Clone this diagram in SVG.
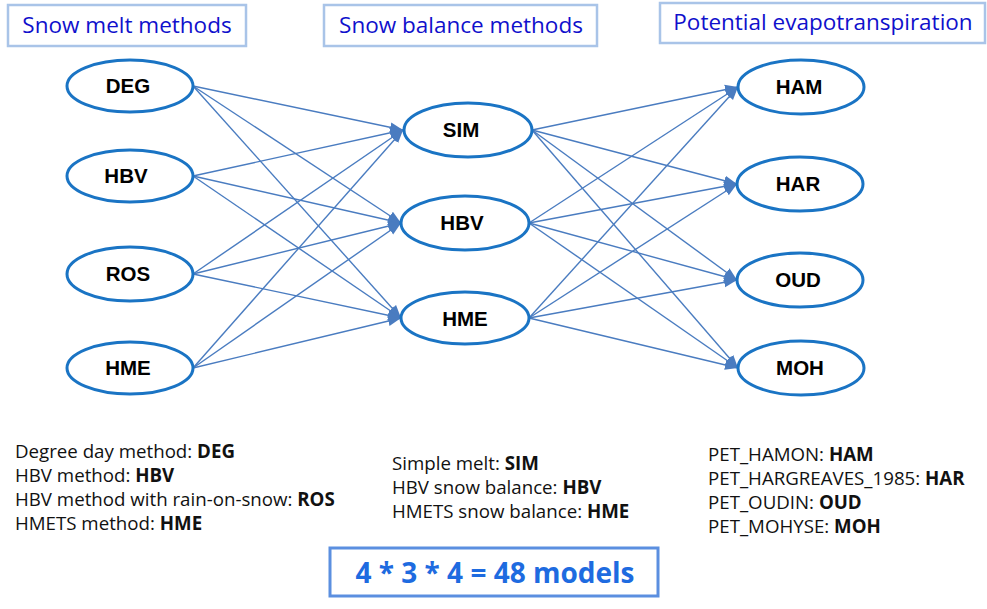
<svg xmlns="http://www.w3.org/2000/svg" width="987" height="609" viewBox="0 0 987 609">
<style>
.hdr{fill:#fff;stroke:#a9c4e8;stroke-width:2.5}
.hdrt{font-family:"Open Sans",sans-serif;font-size:22.5px;fill:#1010cc}
.nd{fill:#fff;stroke:#1a74c4;stroke-width:3}
.ndt{font-family:"Liberation Sans",Arial,sans-serif;font-size:20.5px;font-weight:bold;fill:#000;text-anchor:middle}
.e{stroke:#4a7cc0;stroke-width:1.4;fill:none;marker-end:url(#ah)}
.lg{font-family:"Open Sans",sans-serif;font-size:18.7px;fill:#111}
.lg tspan.b{font-weight:bold}
</style>
<defs>
<marker id="ah" markerUnits="userSpaceOnUse" markerWidth="14" markerHeight="12" refX="13" refY="6" orient="auto">
<path d="M0,1 L13,6 L0,11 Z" fill="#4a7cc0"/>
</marker>
</defs>
<rect width="987" height="609" fill="#fff"/>
<g id="headers">
<g id="h1"><rect class="hdr" x="8" y="5" width="238" height="41"/><text class="hdrt" x="127" y="33" text-anchor="middle">Snow melt methods</text></g>
<g id="h2"><rect class="hdr" x="324" y="5" width="273" height="41"/><text class="hdrt" x="461" y="33" text-anchor="middle">Snow balance methods</text></g>
<g id="h3"><rect class="hdr" x="660" y="3" width="325" height="40"/><text class="hdrt" x="823" y="30" text-anchor="middle">Potential evapotranspiration</text></g>
</g>
<g id="connectors">
<line class="e" x1="193" y1="86" x2="403" y2="130"/>
<line class="e" x1="193" y1="86" x2="401" y2="223"/>
<line class="e" x1="193" y1="86" x2="401" y2="318"/>
<line class="e" x1="193" y1="176" x2="403" y2="130"/>
<line class="e" x1="193" y1="176" x2="401" y2="223"/>
<line class="e" x1="193" y1="176" x2="401" y2="318"/>
<line class="e" x1="193" y1="274" x2="403" y2="130"/>
<line class="e" x1="193" y1="274" x2="401" y2="223"/>
<line class="e" x1="193" y1="274" x2="401" y2="318"/>
<line class="e" x1="193" y1="368" x2="403" y2="130"/>
<line class="e" x1="193" y1="368" x2="401" y2="223"/>
<line class="e" x1="193" y1="368" x2="401" y2="318"/>
<line class="e" x1="532" y1="130" x2="738" y2="87"/>
<line class="e" x1="532" y1="130" x2="737" y2="184"/>
<line class="e" x1="532" y1="130" x2="737" y2="280"/>
<line class="e" x1="532" y1="130" x2="738" y2="368"/>
<line class="e" x1="529" y1="223" x2="738" y2="87"/>
<line class="e" x1="529" y1="223" x2="737" y2="184"/>
<line class="e" x1="529" y1="223" x2="737" y2="280"/>
<line class="e" x1="529" y1="223" x2="738" y2="368"/>
<line class="e" x1="529" y1="318" x2="738" y2="87"/>
<line class="e" x1="529" y1="318" x2="737" y2="184"/>
<line class="e" x1="529" y1="318" x2="737" y2="280"/>
<line class="e" x1="529" y1="318" x2="738" y2="368"/>
</g>
<g id="DEG"><ellipse class="nd" cx="130" cy="86" rx="63" ry="26"/><text class="ndt" x="128" y="93">DEG</text></g>
<g id="HBV1"><ellipse class="nd" cx="130" cy="176" rx="63" ry="26"/><text class="ndt" x="126" y="183">HBV</text></g>
<g id="ROS"><ellipse class="nd" cx="130" cy="274" rx="63" ry="27"/><text class="ndt" x="128" y="281">ROS</text></g>
<g id="HME1"><ellipse class="nd" cx="130" cy="368" rx="63" ry="26"/><text class="ndt" x="128" y="375">HME</text></g>
<g id="SIM"><ellipse class="nd" cx="468" cy="130" rx="64" ry="27"/><text class="ndt" x="461" y="137">SIM</text></g>
<g id="HBV2"><ellipse class="nd" cx="465" cy="223" rx="64" ry="27"/><text class="ndt" x="462" y="230">HBV</text></g>
<g id="HME2"><ellipse class="nd" cx="465" cy="318" rx="64" ry="26"/><text class="ndt" x="465" y="326">HME</text></g>
<g id="HAM"><ellipse class="nd" cx="801" cy="87" rx="63" ry="27"/><text class="ndt" x="799" y="94">HAM</text></g>
<g id="HAR"><ellipse class="nd" cx="800" cy="184" rx="63" ry="27"/><text class="ndt" x="798" y="191">HAR</text></g>
<g id="OUD"><ellipse class="nd" cx="800" cy="280" rx="63" ry="27"/><text class="ndt" x="798" y="287">OUD</text></g>
<g id="MOH"><ellipse class="nd" cx="801" cy="368" rx="63" ry="27"/><text class="ndt" x="800" y="375">MOH</text></g>
<g id="legend1">
<text class="lg" x="15" y="458">Degree day method: <tspan class="b">DEG</tspan></text>
<text class="lg" x="15" y="482">HBV method: <tspan class="b">HBV</tspan></text>
<text class="lg" x="15" y="506">HBV method with rain-on-snow: <tspan class="b">ROS</tspan></text>
<text class="lg" x="15" y="530">HMETS method: <tspan class="b">HME</tspan></text>
</g>
<g id="legend2">
<text class="lg" x="392" y="470">Simple melt: <tspan class="b">SIM</tspan></text>
<text class="lg" x="392" y="494">HBV snow balance: <tspan class="b">HBV</tspan></text>
<text class="lg" x="392" y="518">HMETS snow balance: <tspan class="b">HME</tspan></text>
</g>
<g id="legend3">
<text class="lg" x="708" y="461">PET_HAMON: <tspan class="b">HAM</tspan></text>
<text class="lg" x="708" y="485">PET_HARGREAVES_1985: <tspan class="b">HAR</tspan></text>
<text class="lg" x="708" y="509">PET_OUDIN: <tspan class="b">OUD</tspan></text>
<text class="lg" x="708" y="533">PET_MOHYSE: <tspan class="b">MOH</tspan></text>
</g>
<g id="total">
<rect x="330" y="548" width="328" height="48" fill="#fff" stroke="#5b8fe0" stroke-width="3"/>
<text x="495" y="583" text-anchor="middle" font-family="'Open Sans',sans-serif" font-size="28" font-weight="bold" fill="#1e6be0">4 * 3 * 4 = 48 models</text>
</g>
</svg>
